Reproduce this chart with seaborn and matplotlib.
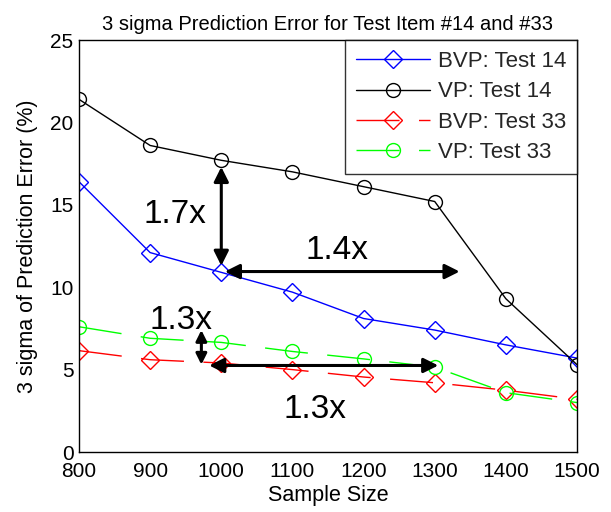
import matplotlib
matplotlib.use("Agg")
import matplotlib.pyplot as plt
import seaborn as sns
import pandas as pd

sample_size = [800, 900, 1000, 1100, 1200, 1300, 1400, 1500]
bvp_14 = [16.4, 12.1, 10.9, 9.7, 8.1, 7.4, 6.5, 5.7]
vp_14 = [21.4, 18.6, 17.7, 17.0, 16.1, 15.2, 9.3, 5.3]
bvp_33 = [6.15, 5.6, 5.4, 5.0, 4.55, 4.2, 3.75, 3.2]
vp_33 = [7.6, 6.9, 6.65, 6.1, 5.65, 5.15, 3.6, 3.0]
series_names = ["BVP: Test 14", "VP: Test 14", "BVP: Test 33", "VP: Test 33"]

sns.set_theme(style="white")
plt.rcParams["font.family"] = ["Liberation Sans", "DejaVu Sans"]

fig = plt.figure(figsize=(6.11, 5.12), dpi=100)
ax = fig.add_axes([79 / 611, 1 - 452 / 512, (577 - 79) / 611, (452 - 40) / 512])

specs = [
    (bvp_14, "#0000ff", "D", "-"),
    (vp_14, "#000000", "o", "-"),
    (bvp_33, "#ff0000", "D", "--"),
    (vp_33, "#00ff00", "o", "--"),
]
DASH = (31, 14)
for name, (vals, col, mk, ls) in zip(series_names, specs):
    df = pd.DataFrame({"x": sample_size, "y": vals})
    sns.lineplot(data=df, x="x", y="y", ax=ax, color=col, marker=mk,
                 markersize=10 if mk == "o" else 9, markerfacecolor="none",
                 markeredgecolor=col, markeredgewidth=1.0, linewidth=1.0,
                 label=name)
    line = ax.lines[-1]
    if ls == "--":
        line.set_dashes(DASH)

ax.set_xlim(800, 1500)
ax.set_ylim(0, 25)
ax.set_xticks(sample_size)
ax.set_yticks([0, 5, 10, 15, 20, 25])
ax.tick_params(axis="both", direction="in", length=3, width=0.8, labelsize=15,
               color="black", labelcolor="black")
ax.tick_params(axis="x", pad=7)
ax.tick_params(axis="y", pad=4)
for s in ax.spines.values():
    s.set_color("black")
    s.set_linewidth(1.0)
ax.set_xlabel("Sample Size", fontsize=15.5, color="black", labelpad=3)
ax.set_ylabel("3 sigma of Prediction Error (%)", fontsize=15.5, color="black", labelpad=9)
ax.set_title("3 sigma Prediction Error for Test Item #14 and #33", fontsize=14.5,
             color="black", pad=7)

leg = ax.legend(loc="upper right", borderaxespad=0, fontsize=16, frameon=True,
                fancybox=False, edgecolor="black", handlelength=3.3,
                handletextpad=0.35, labelspacing=0.42, borderpad=0.5)
leg.get_frame().set_linewidth(1.0)
for h in leg.get_lines():
    if h.get_linestyle() != "-":
        h.set_dashes(DASH)

arrow = dict(arrowstyle="<|-|>", color="black", lw=2.2, mutation_scale=22,
             shrinkA=0, shrinkB=0)
ax.annotate("", xy=(1000, 11.3), xytext=(1000, 17.3), arrowprops=arrow)
ax.annotate("", xy=(1005, 10.95), xytext=(1335, 10.95), arrowprops=arrow)
ax.annotate("", xy=(972, 5.3), xytext=(972, 7.4), arrowprops=dict(arrow, mutation_scale=16))
ax.annotate("", xy=(983, 5.25), xytext=(1305, 5.25), arrowprops=arrow)

tkw = dict(fontsize=24, color="black", ha="center", va="center")
ax.text(935, 14.4, "1.7x", **tkw)
ax.text(1162, 12.2, "1.4x", **tkw)
ax.text(944, 7.95, "1.3x", **tkw)
ax.text(1132, 2.6, "1.3x", **tkw)

fig.savefig("out.png", dpi=100)
